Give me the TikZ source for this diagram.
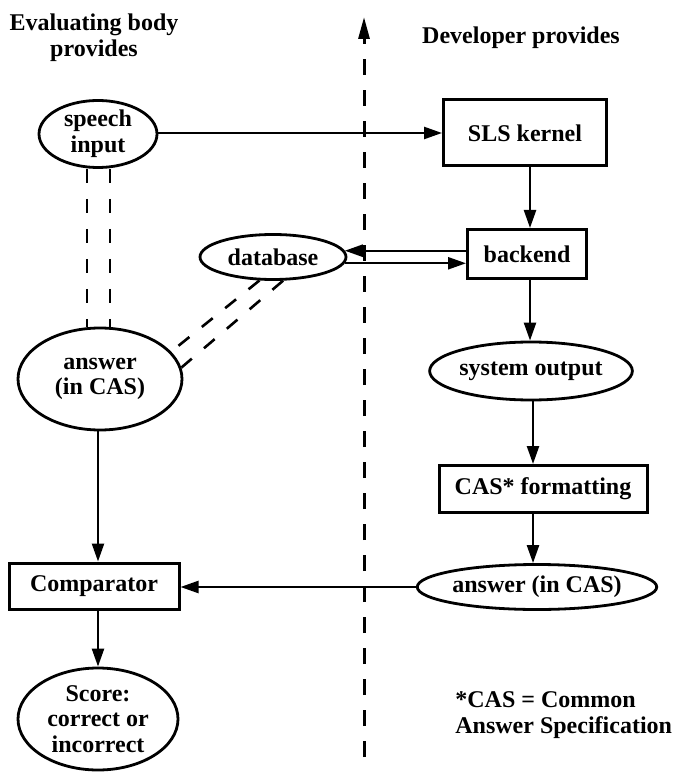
\documentclass[tikz,border=0pt]{standalone}
\usepackage{fontspec}
\setmainfont{Liberation Serif}
\usetikzlibrary{arrows.meta,shapes.geometric}
\begin{document}
\begin{tikzpicture}[x=0.5pt,y=-0.5pt,
  every node/.style={font=\bfseries\fontsize{12}{12.8}\selectfont, align=center, inner sep=0pt},
  ell/.style={ellipse, draw, line width=1.4pt},
  box/.style={rectangle, draw, line width=1.5pt},
  conn/.style={line width=1.2pt, -{Triangle[length=9pt,width=6pt]}},
  dline/.style={line width=1.3pt, dash pattern=on 7pt off 8pt},
  divline/.style={line width=1.5pt, dash pattern=on 8pt off 7.5pt, -{Triangle[length=11pt,width=5.5pt]}}
]
\useasboundingbox (0,0) rectangle (673,774);

% titles
\node (tleft) at (94,38) {Evaluating body\\provides};
\node (tright) at (521,38) {Developer provides};
\node[align=left, anchor=west] (foot) at (455,715) {*CAS = Common\\Answer Specification};

% divider
\coordinate (divbot) at (364,757);
\coordinate (divtop) at (364,17);
\draw[divline] (divbot) -- (divtop);

% left column
\node[ell, minimum width=59pt, minimum height=31.5pt] (speech) at (98,134) {speech\\input};
\node[ell, minimum width=73pt, minimum height=22.5pt] (db) at (273,257) {database};
\node[ell, minimum width=82pt, minimum height=51pt] (ansL) at (100,379) {answer\\(in CAS)};
\node[box, minimum width=85pt, minimum height=23pt] (comp) at (94,586) {Comparator};
\node[ell, minimum width=80pt, minimum height=51pt] (score) at (98,719) {Score:\\correct or\\incorrect};

% right column
\node[box, minimum width=81.5pt, minimum height=33pt] (sls) at (525,133) {SLS kernel};
\node[box, minimum width=59.5pt, minimum height=24.5pt] (backend) at (527,254) {backend};
\node[ell, minimum width=91pt, minimum height=29pt] (sysout) at (531,371) {system output};
\node[box, minimum width=104pt, minimum height=23.5pt] (cas) at (543,489) {CAS* formatting};
\node[ell, minimum width=113pt, minimum height=22.5pt] (ansR) at (537,587) {answer (in CAS)};

\coordinate (colx) at (530,0);
\coordinate (colx2) at (533,0);
\coordinate (d1) at (87,0);
\coordinate (d2) at (110,0);
\coordinate (lx) at (98,0);

% connectors
\draw[conn] (speech.east |- sls.west) -- (sls.west);
\draw[conn] (sls.south -| colx) -- (backend.north -| colx);
\draw[conn] (backend.west |- db.5) -- (db.5);
\draw[conn] (db.-5) -- (backend.west |- db.-5);
\draw[conn] (backend.south -| colx) -- (sysout.north -| colx);
\draw[conn] (sysout.south -| colx2) -- (cas.north -| colx2);
\draw[conn] (cas.south -| colx2) -- (ansR.north -| colx2);
\draw[conn] (ansR.west) -- (comp.east |- ansR.west);
\draw[conn] (ansL.south -| lx) -- (comp.north -| lx);
\draw[conn] (comp.south -| lx) -- (score.north -| lx);

% dashed links
\draw[dline] (speech.south -| d1) -- (ansL.north -| d1);
\draw[dline] (speech.south -| d2) -- (ansL.north -| d2);
\draw[dline] (db.240) -- (ansL.21);
\draw[dline] (db.293) -- (ansL.8);
\end{tikzpicture}
\end{document}
